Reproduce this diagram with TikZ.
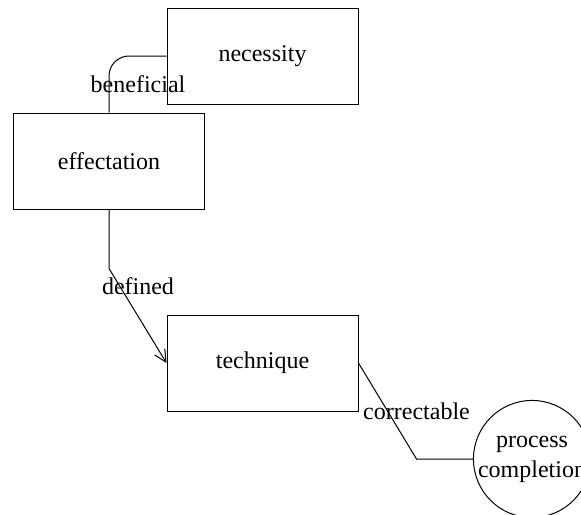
\documentclass[tikz,border=0pt]{standalone}
\usepackage{fontspec}
\setmainfont{Liberation Serif}
\usetikzlibrary{arrows.meta}
\begin{document}
\begin{tikzpicture}[x=0.5pt,y=-0.5pt, line width=0.5pt,
  txt/.style={font=\fontsize{12}{15}\selectfont},
  box/.style={draw, rectangle, minimum width=95.5pt, minimum height=48pt, inner sep=0pt, txt},
  circ/.style={draw, circle, minimum size=57pt, inner sep=0pt, align=center, txt},
  lbl/.style={inner sep=0pt, txt},
  conn/.style={draw, line width=0.5pt},
  arr/.style={-{Straight Barb[length=6pt,width=6pt]}}]
\useasboundingbox (0,0) rectangle (581,514);
\node[box] (nec) at (262.5,56) {necessity};
\node[box] (eff) at (109,161) {effectation};
\node[box] (tech) at (262.5,363) {technique};
\node[circ] (pc) at (532,459) {process\\completion};
\draw[conn, rounded corners=10pt] (eff.north) |- (nec.west);
\draw[conn, arr] (eff.south) -- ++(0,59) -- (tech.west);
\draw[conn] (tech.east) -- ++(58,96) -- (pc.west);
\node[lbl] (lb1) at (138,84) {beneficial};
\node[lbl] (lb2) at (138,286) {defined};
\node[lbl] (lb3) at (416.5,411) {correctable};
\end{tikzpicture}
\end{document}
